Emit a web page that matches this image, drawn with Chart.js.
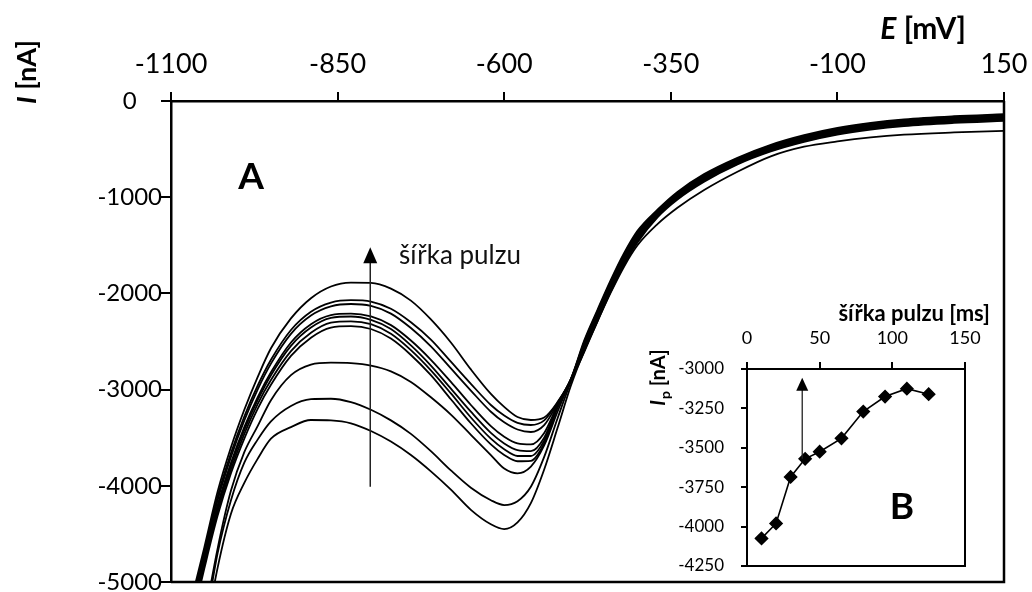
<!DOCTYPE html>
<html>
<head>
<meta charset="utf-8">
<script src="https://cdn.jsdelivr.net/npm/chart.js@4.4.0/dist/chart.umd.min.js"></script>
<style>
  html, body { margin: 0; padding: 0; background: #fff; }
  #wrap { position: relative; width: 1032px; height: 592px; }
  #graficoPrincipal { position: absolute; left: 0; top: 0; }
  #graficoInset { position: absolute; left: 630px; top: 290px; }
</style>
</head>
<body>
<div id="wrap">
  <canvas id="graficoPrincipal" width="1032" height="592"></canvas>
  <canvas id="graficoInset" width="374" height="292"></canvas>
</div>
<script>
// potenciál E [mV] (společný pro všechny křivky)
const potencial = [-1070, -1050, -1030, -1010, -990, -970, -950, -920, -890, -860, -830, -800,
  -770, -740, -710, -680, -650, -620, -600, -580, -560, -540, -520, -500,
  -480, -460, -440, -420, -400, -370, -340, -300, -250, -200, -150, -100, -50, 0, 75, 150];

// proud I [nA] pro jednotlivé šířky pulzu
const proud110 = [-5200, -4640, -4060, -3600, -3210, -2870, -2570, -2260, -2050, -1928, -1888, -1890,
  -1950, -2075, -2270, -2510, -2790, -3045, -3180, -3285, -3316, -3290, -3130, -2890,
  -2490, -2170, -1860, -1580, -1350, -1130, -945, -760, -590, -455, -355, -280, -227, -190, -158, -137];
const proud125 = [-5250, -4680, -4110, -3660, -3280, -2960, -2690, -2380, -2190, -2095, -2070, -2085,
  -2160, -2300, -2480, -2710, -2940, -3160, -3270, -3345, -3368, -3320, -3135, -2890,
  -2505, -2185, -1875, -1595, -1365, -1140, -955, -770, -599, -464, -364, -289, -236, -199, -167, -146];
const proud95 = [-5300, -4720, -4150, -3700, -3320, -3000, -2730, -2420, -2230, -2135, -2110, -2130,
  -2210, -2360, -2550, -2780, -3010, -3230, -3340, -3415, -3441, -3370, -3145, -2895,
  -2520, -2200, -1890, -1610, -1380, -1150, -965, -780, -608, -473, -373, -298, -245, -208, -176, -155];
const proud80 = [-5350, -4760, -4200, -3760, -3390, -3080, -2820, -2510, -2320, -2225, -2210, -2240,
  -2330, -2490, -2690, -2920, -3160, -3380, -3490, -3560, -3570, -3450, -3160, -2895,
  -2535, -2215, -1905, -1625, -1395, -1160, -975, -790, -616, -481, -381, -306, -253, -216, -184, -163];
const proud65 = [-5380, -4790, -4230, -3790, -3420, -3110, -2850, -2545, -2355, -2255, -2240, -2275,
  -2370, -2540, -2750, -2990, -3230, -3450, -3560, -3630, -3640, -3500, -3170, -2900,
  -2550, -2230, -1920, -1640, -1410, -1170, -985, -800, -625, -490, -390, -315, -262, -225, -193, -172];
const proud50 = [-5400, -4820, -4270, -3830, -3460, -3150, -2900, -2600, -2410, -2305, -2290, -2320,
  -2420, -2590, -2800, -3040, -3290, -3510, -3620, -3690, -3690, -3530, -3180, -2900,
  -2565, -2245, -1935, -1655, -1425, -1180, -995, -810, -634, -499, -399, -324, -271, -234, -202, -181];
const proud40 = [-5450, -4860, -4310, -3870, -3510, -3200, -2950, -2650, -2460, -2355, -2340, -2370,
  -2470, -2640, -2850, -3100, -3350, -3570, -3680, -3745, -3740, -3560, -3190, -2905,
  -2580, -2260, -1950, -1670, -1440, -1190, -1005, -820, -642, -507, -407, -332, -279, -242, -210, -189];
const proud30 = [-6200, -5400, -4650, -4050, -3650, -3380, -3110, -2850, -2740, -2720, -2725, -2750,
  -2810, -2920, -3080, -3260, -3470, -3680, -3820, -3870, -3800, -3580, -3230, -2900,
  -2595, -2275, -1965, -1685, -1455, -1200, -1015, -830, -651, -516, -416, -341, -288, -251, -219, -198];
const proud20 = [-6300, -5500, -4700, -4150, -3760, -3520, -3330, -3170, -3100, -3095, -3130, -3210,
  -3320, -3460, -3640, -3840, -4020, -4150, -4200, -4160, -4010, -3700, -3300, -2920,
  -2610, -2290, -1980, -1700, -1470, -1210, -1025, -840, -660, -525, -425, -350, -297, -260, -228, -207];
const proud10 = [-6400, -5600, -4850, -4290, -3970, -3720, -3510, -3390, -3316, -3320, -3350, -3430,
  -3540, -3680, -3850, -4040, -4250, -4400, -4450, -4380, -4180, -3830, -3400, -2960,
  -2600, -2290, -1990, -1720, -1500, -1280, -1110, -925, -735, -575, -475, -420, -378, -350, -327, -310];

// inset B: šířka pulzu [ms] vs. Ip [nA]
const sirkaPulzu = [10, 20, 30, 40, 50, 65, 80, 95, 110, 125];
const proudIp = [-4075, -3980, -3685, -3570, -3525, -3440, -3270, -3175, -3125, -3160];

const krivky = [proud110, proud125, proud95, proud80, proud65, proud50, proud40, proud30, proud20, proud10];

const fonte = 'Lato, "Open Sans", sans-serif';

// Popisky a šipka v hlavním grafu
const anotaceA = {
  id: 'anotaceA',
  afterDraw(chart) {
    const { ctx, chartArea } = chart;
    ctx.save();
    // rámeček plochy grafu (pravá a dolní strana)
    ctx.strokeStyle = '#000';
    ctx.lineWidth = 2.5;
    ctx.beginPath();
    ctx.moveTo(chartArea.right, chartArea.top);
    ctx.lineTo(chartArea.right, chartArea.bottom);
    ctx.lineTo(chartArea.left, chartArea.bottom);
    ctx.stroke();

    ctx.fillStyle = '#000';
    ctx.font = 'bold 37px ' + fonte;
    ctx.textAlign = 'center';
    ctx.textBaseline = 'middle';
    ctx.fillText('A', 251, 177);

    // šipka
    const xs = chart.scales.x, ys = chart.scales.y;
    const ax = xs.getPixelForValue(-801);
    const y0 = ys.getPixelForValue(-4010);
    const y1 = ys.getPixelForValue(-1520);
    ctx.strokeStyle = '#222';
    ctx.lineWidth = 1.5;
    ctx.beginPath();
    ctx.moveTo(ax, y0);
    ctx.lineTo(ax, y1 + 14);
    ctx.stroke();
    ctx.beginPath();
    ctx.moveTo(ax, y1);
    ctx.lineTo(ax - 7, y1 + 16);
    ctx.lineTo(ax + 7, y1 + 16);
    ctx.closePath();
    ctx.fill();

    ctx.font = '26px ' + fonte;
    ctx.textAlign = 'left';
    ctx.fillStyle = '#111';
    ctx.fillText('šířka pulzu', 399, 256);

    // název osy x
    ctx.fillStyle = '#000';
    ctx.textBaseline = 'alphabetic';
    ctx.textAlign = 'left';
    ctx.font = 'bold italic 30px ' + fonte;
    const wE = ctx.measureText('E').width;
    ctx.font = 'bold 30px ' + fonte;
    const wR = ctx.measureText(' [mV]').width;
    const x0 = 966 - wE - wR;
    ctx.font = 'bold italic 30px ' + fonte;
    ctx.fillText('E', x0, 39);
    ctx.font = 'bold 30px ' + fonte;
    ctx.fillText(' [mV]', x0 + wE, 39);

    // název osy y
    ctx.translate(36, 72);
    ctx.rotate(-Math.PI / 2);
    ctx.font = 'bold italic 27px ' + fonte;
    const wI = ctx.measureText('I').width;
    ctx.font = 'bold 27px ' + fonte;
    const wN = ctx.measureText(' [nA]').width;
    const s0 = -(wI + wN) / 2;
    ctx.font = 'bold italic 27px ' + fonte;
    ctx.fillText('I', s0, 0);
    ctx.font = 'bold 27px ' + fonte;
    ctx.fillText(' [nA]', s0 + wI, 0);
    ctx.restore();
  }
};

// Popisky v insetu B
const anotaceB = {
  id: 'anotaceB',
  afterDraw(chart) {
    const { ctx, chartArea } = chart;
    ctx.save();
    ctx.strokeStyle = '#000';
    ctx.lineWidth = 2;
    ctx.strokeRect(chartArea.left, chartArea.top, chartArea.right - chartArea.left, chartArea.bottom - chartArea.top);

    const xs = chart.scales.x, ys = chart.scales.y;
    const ax = xs.getPixelForValue(38);
    const y0 = ys.getPixelForValue(-3570);
    const y1 = ys.getPixelForValue(-3055);
    ctx.fillStyle = '#000';
    ctx.strokeStyle = '#222';
    ctx.lineWidth = 1.3;
    ctx.beginPath();
    ctx.moveTo(ax, y0);
    ctx.lineTo(ax, y1 + 10);
    ctx.stroke();
    ctx.beginPath();
    ctx.moveTo(ax, y1);
    ctx.lineTo(ax - 6, y1 + 13);
    ctx.lineTo(ax + 6, y1 + 13);
    ctx.closePath();
    ctx.fill();

    ctx.font = 'bold 37px ' + fonte;
    ctx.textAlign = 'center';
    ctx.textBaseline = 'middle';
    ctx.fillText('B', 272, 217);

    ctx.font = 'bold 22px ' + fonte;
    ctx.textAlign = 'right';
    ctx.textBaseline = 'alphabetic';
    ctx.fillText('šířka pulzu [ms]', 360, 31);

    // název osy y insetu
    ctx.translate(35, 88);
    ctx.rotate(-Math.PI / 2);
    ctx.textAlign = 'left';
    ctx.font = 'bold italic 20px ' + fonte;
    const wI = ctx.measureText('I').width;
    ctx.font = 'bold 14px ' + fonte;
    const wP = ctx.measureText('p').width;
    ctx.font = 'bold 20px ' + fonte;
    const wN = ctx.measureText(' [nA]').width;
    const s0 = -(wI + wP + wN) / 2;
    ctx.font = 'bold italic 20px ' + fonte;
    ctx.fillText('I', s0, 0);
    ctx.font = 'bold 14px ' + fonte;
    ctx.fillText('p', s0 + wI + 1, 5);
    ctx.font = 'bold 20px ' + fonte;
    ctx.fillText(' [nA]', s0 + wI + wP + 1, 0);
    ctx.restore();
  }
};

const semOddelovace = v => String(v);

document.addEventListener('DOMContentLoaded', () => {
  const datasets = krivky.map(k => ({
    data: potencial.map((e, i) => ({ x: e, y: k[i] })),
    borderColor: '#000',
    borderWidth: 1.8,
    pointRadius: 0,
    cubicInterpolationMode: 'monotone',
    fill: false
  }));

  new Chart(document.getElementById('graficoPrincipal'), {
    type: 'line',
    data: { datasets },
    options: {
      responsive: false,
      animation: false,
      layout: { padding: { left: 0, top: 0, right: 28, bottom: 10 } },
      plugins: { legend: { display: false }, tooltip: { enabled: false } },
      scales: {
        x: {
          type: 'linear', position: 'top', min: -1100, max: 150,
          ticks: { stepSize: 250, color: '#000', font: { family: fonte, size: 27 }, padding: 12, maxRotation: 0, callback: semOddelovace },
          grid: { drawOnChartArea: false, color: '#000', lineWidth: 2, tickLength: 9 },
          border: { color: '#000', width: 2.5 },
          afterFit: s => { s.height = 101; s.paddingLeft = 0; s.paddingRight = 0; }
        },
        y: {
          min: -5000, max: 0,
          ticks: { stepSize: 1000, color: '#000', font: { family: fonte, size: 24 }, padding: -1, crossAlign: 'center', callback: semOddelovace },
          grid: { drawOnChartArea: false, color: '#000', lineWidth: 2, tickLength: 10 },
          border: { color: '#000', width: 2.5 },
          afterFit: s => { s.width = 171; s.paddingTop = 0; s.paddingBottom = 0; }
        }
      }
    },
    plugins: [anotaceA]
  });

  new Chart(document.getElementById('graficoInset'), {
    type: 'line',
    data: {
      datasets: [{
        data: sirkaPulzu.map((x, i) => ({ x, y: proudIp[i] })),
        borderColor: '#000',
        backgroundColor: '#000',
        borderWidth: 1.6,
        pointStyle: 'rectRot',
        pointRadius: 6,
        tension: 0
      }]
    },
    options: {
      responsive: false,
      animation: false,
      layout: { padding: { left: 0, top: 0, right: 39, bottom: 16 } },
      plugins: { legend: { display: false }, tooltip: { enabled: false } },
      scales: {
        x: {
          type: 'linear', position: 'top', min: 0, max: 150,
          ticks: { stepSize: 50, color: '#000', font: { family: fonte, size: 18 }, padding: 13, maxRotation: 0, callback: semOddelovace },
          grid: { drawOnChartArea: false, color: '#000', lineWidth: 2, tickLength: 7 },
          border: { color: '#000', width: 2 },
          afterFit: s => { s.height = 79; s.paddingLeft = 0; s.paddingRight = 0; }
        },
        y: {
          min: -4250, max: -3000,
          ticks: { stepSize: 250, color: '#000', font: { family: fonte, size: 17 }, padding: 17, callback: semOddelovace },
          grid: { drawOnChartArea: false, color: '#000', lineWidth: 2, tickLength: 6 },
          border: { color: '#000', width: 2 },
          afterFit: s => { s.width = 117; s.paddingTop = 0; s.paddingBottom = 0; }
        }
      }
    },
    plugins: [anotaceB]
  });
});
</script>
</body>
</html>
